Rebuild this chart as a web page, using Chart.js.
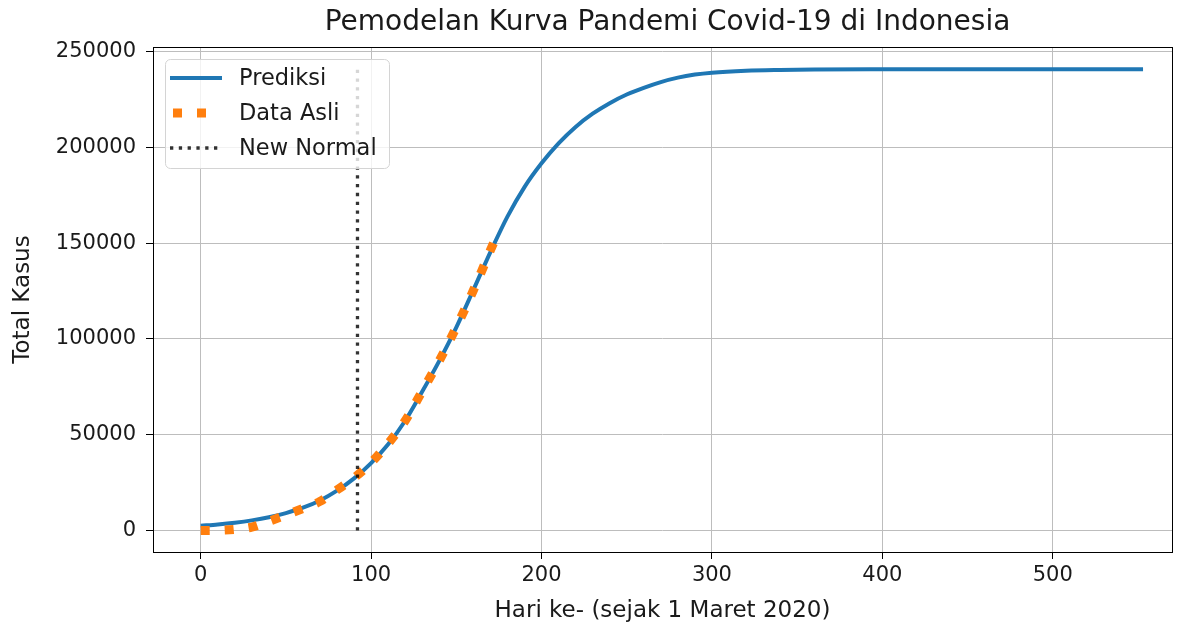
<!DOCTYPE html>
<html lang="en">
<head>
<meta charset="UTF-8">
<title>Pemodelan Kurva Pandemi Covid-19 di Indonesia</title>
<script src="https://cdn.jsdelivr.net/npm/chart.js"></script>
<style>
  html, body { margin: 0; padding: 0; background: #fff; }
  #wrap { width: 1187px; height: 628px; }
</style>
</head>
<body>
<div id="wrap"><canvas id="chart" width="1187" height="628"></canvas></div>
<script>
  // Prediksi (model curve)
  var predDays  = [0, 10, 20, 30, 40, 50, 60, 70, 80, 90, 100, 110, 120, 130, 140, 150, 160, 170, 180, 190,
                   200, 210, 220, 230, 240, 250, 260, 270, 280, 290, 300, 320, 340, 360, 400, 450, 500, 553];
  var predCases = [2500, 3200, 4100, 5300, 6900, 9100, 11900, 15700, 20800, 27200, 35200, 45000, 57300, 72500,
                   88500, 106000, 125500, 145300, 163800, 179200, 191600, 202000, 210600, 217500, 223000, 227500,
                   231000, 234000, 236300, 237900, 238900, 239900, 240300, 240500, 240650, 240700, 240700, 240700];

  // Data Asli (reported totals)
  var dataDays  = [0, 10, 20, 30, 40, 50, 60, 70, 80, 90, 100, 110, 120, 130, 140, 150, 160, 170, 173];
  var dataCases = [0, 100, 600, 1800, 4800, 8100, 11500, 15200, 21200, 27500, 35400, 45400, 57300, 72800,
                   88600, 106100, 125300, 146200, 152400];

  // New Normal marker
  var newNormalDay = 92;
  var newNormalCases = [0, 240700];

  // tick labels
  var xTicks = [0, 100, 200, 300, 400, 500];
  var yTicks = [0, 50000, 100000, 150000, 200000, 250000];

  var titleText = 'Pemodelan Kurva Pandemi Covid-19 di Indonesia';

  function points(xs, ys) {
    return xs.map(function (x, i) { return { x: x, y: ys[i] }; });
  }

  var font = '"DejaVu Sans", "Liberation Sans", sans-serif';

  // top/right spines like matplotlib, title centred over the axes
  var frame = {
    id: 'frame',
    afterDatasetsDraw: function (chart) {
      var a = chart.chartArea, ctx = chart.ctx;
      ctx.save();
      ctx.strokeStyle = '#000';
      ctx.lineWidth = 1;
      ctx.strokeRect(Math.round(a.left) + 0.5, Math.round(a.top) + 0.5,
                     Math.round(a.right - a.left), Math.round(a.bottom - a.top));
      ctx.fillStyle = '#1a1a1a';
      ctx.font = '28px ' + font;
      ctx.textAlign = 'center';
      ctx.textBaseline = 'middle';
      ctx.fillText(titleText, (a.left + a.right) / 2 + 5, 23);
      ctx.restore();
    }
  };

  // legend box in the upper left corner of the axes
  var legendBox = {
    id: 'legendBox',
    afterDatasetsDraw: function (chart) {
      var ctx = chart.ctx;
      ctx.save();
      ctx.beginPath();
      ctx.roundRect(165.5, 59.5, 224, 109, 5);
      ctx.fillStyle = 'rgba(255,255,255,0.8)';
      ctx.fill();
      ctx.strokeStyle = '#d4d4d4';
      ctx.lineWidth = 1;
      ctx.stroke();
      chart.data.datasets.forEach(function (ds, i) {
        var ry = 78 + i * 35;
        ctx.beginPath();
        ctx.setLineDash(ds.borderDash || []);
        ctx.lineDashOffset = ds.legendOffset || 0;
        ctx.lineCap = 'butt';
        ctx.strokeStyle = ds.borderColor;
        ctx.lineWidth = ds.borderWidth;
        ctx.moveTo(170, ry);
        ctx.lineTo(ds.legendEnd || 222, ry);
        ctx.stroke();
        ctx.setLineDash([]);
        ctx.fillStyle = '#1a1a1a';
        ctx.font = '22.5px ' + font;
        ctx.textBaseline = 'middle';
        ctx.fillText(ds.label, 239, ry + 1);
      });
      ctx.restore();
    }
  };

  new Chart(document.getElementById('chart'), {
    type: 'line',
    data: {
      datasets: [{
        label: 'Prediksi',
        data: points(predDays, predCases),
        borderColor: '#1f77b4',
        borderWidth: 4,
        cubicInterpolationMode: 'monotone',
        pointRadius: 0,
        order: 3
      }, {
        label: 'Data Asli',
        data: points(dataDays, dataCases),
        borderColor: '#ff7f0e',
        borderWidth: 9,
        borderDash: [9, 15],
        legendOffset: -3,
        legendEnd: 212,
        borderCapStyle: 'butt',
        cubicInterpolationMode: 'monotone',
        pointRadius: 0,
        order: 2
      }, {
        label: 'New Normal',
        data: points([newNormalDay, newNormalDay], newNormalCases),
        borderColor: 'rgba(0,0,0,0.8)',
        borderWidth: 3.3,
        borderDash: [3.3, 5.5],
        borderCapStyle: 'butt',
        pointRadius: 0,
        order: 1
      }]
    },
    options: {
      responsive: false,
      animation: false,
      events: [],
      layout: { padding: { left: 0, right: 15, top: 47, bottom: 0 } },
      plugins: {
        legend: { display: false },
        tooltip: { enabled: false },
        title: { display: false }
      },
      scales: {
        x: {
          type: 'linear',
          min: -28,
          max: 570,
          afterFit: function (s) { s.height = 76; },
          afterBuildTicks: function (s) { s.ticks = xTicks.map(function (v) { return { value: v }; }); },
          grid: { color: '#bdbdbd', lineWidth: 1, tickColor: '#000', tickLength: 7 },
          border: { display: false },
          ticks: {
            color: '#1a1a1a', padding: 4,
            font: { family: font, size: 21 },
            maxRotation: 0,
            callback: function (v) { return String(v); }
          },
          title: {
            display: true,
            text: 'Hari ke- (sejak 1 Maret 2020)',
            color: '#1a1a1a',
            font: { family: font, size: 23 },
            padding: { top: 0, bottom: 3 }
          }
        },
        y: {
          type: 'linear',
          min: -11200,
          max: 252300,
          afterFit: function (s) { s.width = 153; },
          afterBuildTicks: function (s) { s.ticks = yTicks.map(function (v) { return { value: v }; }); },
          grid: { color: '#bdbdbd', lineWidth: 1, tickColor: '#000', tickLength: 7 },
          border: { display: false },
          ticks: {
            color: '#1a1a1a', padding: 10,
            font: { family: font, size: 21 },
            callback: function (v) { return String(v); }
          },
          title: {
            display: true,
            text: 'Total Kasus',
            color: '#1a1a1a',
            font: { family: font, size: 23 },
            padding: { top: 9, bottom: 0 }
          }
        }
      }
    },
    plugins: [frame, legendBox]
  });
</script>
</body>
</html>
